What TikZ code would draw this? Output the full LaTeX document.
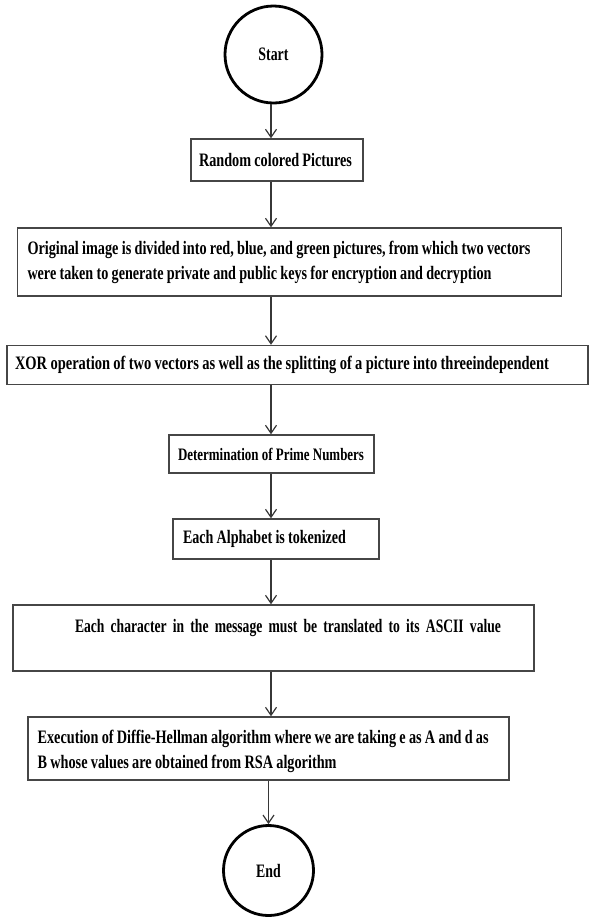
\documentclass[tikz,border=0pt]{standalone}
\usepackage{fontspec}
\usepackage{graphicx}
\setmainfont{Liberation Serif}[FakeStretch=0.73]
\usetikzlibrary{arrows.meta}
\definecolor{boxgray}{RGB}{70,70,70}
\definecolor{arrgray}{RGB}{55,55,55}
% one line of text, set to the width it has in the reference
\newcommand\fitline[2]{\rlap{\resizebox{#1}{\height}{\spaceskip 3.2pt\relax #2}}}
\newcommand\fitlinewide[2]{\rlap{\resizebox{#1}{\height}{#2}}}
\begin{document}
\begin{tikzpicture}[x=1pt,y=-1pt,
  txt/.style={font=\bfseries\fontsize{19pt}{25pt}\selectfont},
  stepbox/.style={txt, draw=boxgray, line width=1.4pt, rectangle, inner xsep=4pt, inner ysep=0pt, align=left},
  term/.style={txt, circle, draw=black, line width=2.8pt, inner sep=0pt},
  arr/.style={draw=arrgray, line width=1.2pt, -{Straight Barb[length=8pt,width=11pt,line width=1.2pt]}}]
\useasboundingbox (0,0) rectangle (589,919);
\coordinate (spine) at (271,0);
% terminals
\node[term, minimum size=97pt] (start) at (273.5,54.5) {Start};
\node[term, minimum size=90pt] (stop) at (268.5,870.5) {End};
% boxes: centre = ((x1+x2)/2,(y1+y2)/2), size = box size
\node[stepbox, minimum width=172pt, minimum height=42pt, text width=164pt] (rand) at (277,160)
  {\hspace*{4pt}\fitline{153pt}{Random colored Pictures}};
\node[stepbox, minimum width=544pt, minimum height=68pt, text width=536pt] (orig) at (289.5,262)
  {\hspace*{6pt}\fitline{503pt}{Original image is divided into red, blue, and green pictures, from which two vectors}\\
   \hspace*{6pt}\fitline{464pt}{were taken to generate private and public keys for encryption and decryption}};
\node[stepbox, minimum width=581pt, minimum height=39pt, text width=573pt] (xor) at (297.5,365)
  {\hspace*{4pt}\fitline{534pt}{XOR operation of two vectors as well as the splitting of a picture into threeindependent}};
\node[stepbox, minimum width=205pt, minimum height=38pt, text width=197pt,
      font=\bfseries\fontsize{17.5pt}{22pt}\selectfont] (prime) at (271.5,454)
  {\hspace*{5pt}\fitline{186pt}{Determination of Prime Numbers}};
\node[stepbox, minimum width=206pt, minimum height=40pt, text width=198pt] (token) at (276,539)
  {\hspace*{6pt}\fitline{163pt}{Each Alphabet is tokenized}};
\node[stepbox, minimum width=521pt, minimum height=66pt, text width=513pt] (ascii) at (273.5,638)
  {\hspace*{58pt}\fitlinewide{426pt}{Each character in the message must be translated to its ASCII value}\\ \mbox{}};
\node[stepbox, minimum width=481pt, minimum height=63pt, text width=473pt] (dh) at (268.5,748.5)
  {\rule{0pt}{19pt}\hspace*{5.6pt}\fitline{451pt}{Execution of Diffie-Hellman algorithm where we are taking e as A and d as}\\
   \hspace*{5.6pt}\fitline{299pt}{B whose values are obtained from RSA algorithm}};
% connectors
\draw[arr] (start.south -| spine) -- (rand.north -| spine);
\draw[arr] (rand.south -| spine) -- (orig.north -| spine);
\draw[arr] (orig.south -| spine) -- (xor.north -| spine);
\draw[arr] (xor.south -| spine) -- (prime.north -| spine);
\draw[arr] (prime.south -| spine) -- (token.north -| spine);
\draw[arr] (token.south -| spine) -- (ascii.north -| spine);
\draw[arr] (ascii.south -| spine) -- (dh.north -| spine);
\draw[arr] (dh.south -| stop.north) -- (stop.north);
\end{tikzpicture}
\end{document}
